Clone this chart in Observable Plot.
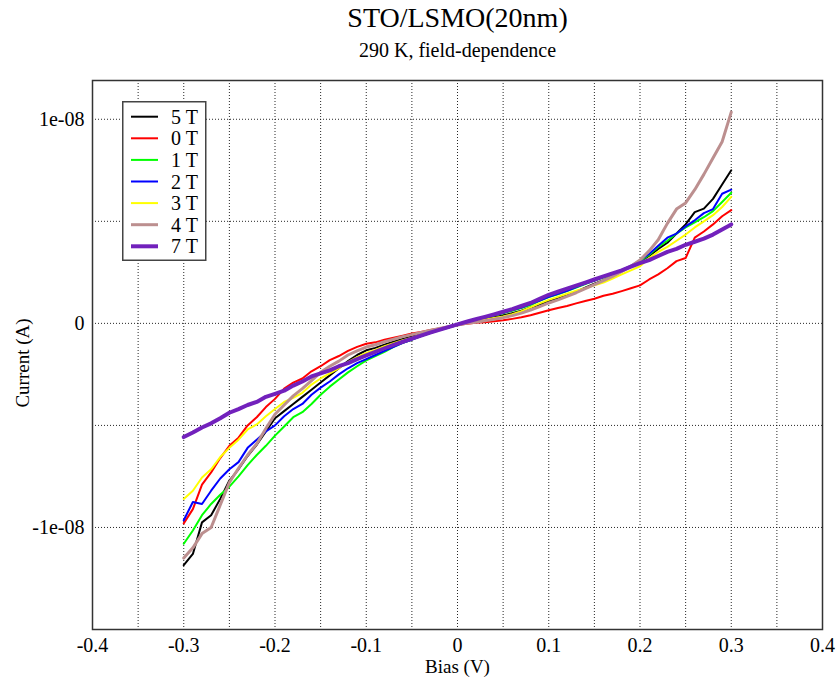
<!DOCTYPE html>
<html><head><meta charset="utf-8">
<script src="https://cdn.jsdelivr.net/npm/d3@7"></script>
<script src="https://cdn.jsdelivr.net/npm/@observablehq/plot@0.6"></script>
<style>
body{margin:0;background:#fff;}
#wrap{position:relative;width:838px;height:681px;font-family:"Liberation Serif","Times New Roman",serif;}
#legend{position:absolute;left:122px;top:101px;}
</style></head><body><div id="wrap"></div>
<script>
// Bias (V)
const bias = [-0.30,-0.29,-0.28,-0.27,-0.26,-0.25,-0.24,-0.23,-0.22,-0.21,-0.20,-0.19,-0.18,-0.17,-0.16,-0.15,-0.14,-0.13,-0.12,-0.11,-0.10,-0.09,-0.08,-0.07,-0.06,-0.05,-0.04,-0.03,-0.02,-0.01,0.00,
  0.01,0.02,0.03,0.04,0.05,0.06,0.07,0.08,0.09,0.10,0.11,0.12,0.13,0.14,0.15,0.16,0.17,0.18,0.19,0.20,0.21,0.22,0.23,0.24,0.25,0.26,0.27,0.28,0.29,0.30];

const series = ["5 T","0 T","1 T","2 T","3 T","4 T","7 T"];
const colors = ["#000000","#ff0000","#00ff00","#0000ff","#ffff00","#bc8f8f","#7221bc"];
const widths = [2,2,2,2,2,3,4];

// Current in units of 1e-9 A
const cur5T = [-11.85,-11.3,-9.75,-9.4,-8.6,-7.7,-7.15,-6.5,-5.95,-5.3,-4.65,-4.3,-3.95,-3.6,-3.25,-2.9,-2.55,-2.2,-1.85,-1.55,-1.32,-1.2,-1.05,-0.9,-0.76,-0.64,-0.5,-0.38,-0.28,-0.18,-0.08,
  0.02,0.1,0.2,0.3,0.39,0.5,0.62,0.78,0.92,1.09,1.22,1.38,1.55,1.75,1.95,2.12,2.32,2.55,2.8,3.05,3.3,3.65,3.95,4.4,4.85,5.45,5.62,6.1,6.8,7.5];
const cur0T = [-9.8,-9.1,-7.9,-7.3,-6.6,-6.0,-5.6,-5.0,-4.6,-4.1,-3.7,-3.2,-2.9,-2.7,-2.35,-2.1,-1.8,-1.6,-1.35,-1.15,-1.0,-0.93,-0.8,-0.7,-0.6,-0.5,-0.42,-0.33,-0.25,-0.16,-0.08,
  -0.02,0.03,0.06,0.1,0.15,0.22,0.3,0.4,0.52,0.64,0.75,0.85,0.98,1.1,1.21,1.35,1.45,1.58,1.72,1.86,2.15,2.4,2.7,3.05,3.2,4.2,4.5,4.85,5.25,5.55];
const cur1T = [-10.8,-10.15,-9.4,-8.85,-8.4,-8.0,-7.5,-6.95,-6.45,-6.0,-5.5,-5.05,-4.6,-4.35,-3.95,-3.5,-3.1,-2.75,-2.4,-2.1,-1.81,-1.6,-1.4,-1.15,-0.95,-0.8,-0.62,-0.48,-0.33,-0.2,-0.08,
  0.05,0.15,0.28,0.4,0.5,0.62,0.75,0.9,1.1,1.29,1.42,1.58,1.75,1.92,2.1,2.25,2.42,2.6,2.8,3.05,3.35,3.75,4.05,4.4,4.7,4.95,5.2,5.5,5.95,6.4];
const cur2T = [-9.65,-8.75,-8.85,-8.2,-7.6,-7.15,-6.8,-6.1,-5.7,-5.3,-5.0,-4.55,-4.2,-3.95,-3.5,-3.15,-2.85,-2.5,-2.2,-1.95,-1.75,-1.55,-1.35,-1.15,-0.95,-0.8,-0.62,-0.47,-0.33,-0.2,-0.08,
  0.05,0.16,0.28,0.4,0.52,0.65,0.78,0.95,1.12,1.3,1.45,1.6,1.78,1.95,2.1,2.28,2.45,2.62,2.82,3.09,3.4,3.8,4.2,4.4,4.75,5.05,5.4,5.6,6.35,6.55];
const cur3T = [-8.6,-8.2,-7.55,-7.15,-6.55,-6.1,-5.7,-5.2,-4.95,-4.55,-4.2,-3.85,-3.65,-3.4,-3.0,-2.7,-2.45,-2.2,-1.9,-1.65,-1.45,-1.3,-1.12,-0.97,-0.83,-0.7,-0.55,-0.42,-0.3,-0.18,-0.08,
  0.02,0.1,0.18,0.26,0.34,0.45,0.6,0.78,0.98,1.15,1.3,1.45,1.6,1.72,1.86,2.0,2.2,2.4,2.6,2.8,3.2,3.5,3.75,4.05,4.35,4.7,5.0,5.3,5.7,6.2];
const cur4T = [-11.5,-11.0,-10.3,-10.0,-8.9,-7.8,-7.1,-6.45,-5.9,-5.15,-4.45,-4.0,-3.55,-3.2,-2.8,-2.4,-2.1,-1.85,-1.55,-1.35,-1.16,-1.05,-0.9,-0.78,-0.65,-0.55,-0.45,-0.35,-0.25,-0.16,-0.08,
  0.0,0.06,0.13,0.2,0.28,0.38,0.5,0.65,0.82,1.0,1.15,1.32,1.5,1.7,1.9,2.1,2.3,2.55,2.8,3.1,3.55,4.1,4.9,5.6,5.9,6.55,7.3,8.1,8.9,10.35];
const cur7T = [-5.57,-5.35,-5.1,-4.9,-4.65,-4.38,-4.2,-4.0,-3.85,-3.6,-3.45,-3.3,-3.05,-2.85,-2.6,-2.45,-2.3,-2.1,-1.95,-1.75,-1.57,-1.4,-1.22,-1.05,-0.9,-0.75,-0.6,-0.45,-0.32,-0.18,-0.05,
  0.08,0.2,0.32,0.44,0.57,0.7,0.85,1.0,1.2,1.4,1.55,1.7,1.85,2.0,2.15,2.3,2.45,2.6,2.78,2.95,3.1,3.3,3.5,3.65,3.85,4.0,4.15,4.35,4.6,4.85];

const values = [cur5T, cur0T, cur1T, cur2T, cur3T, cur4T, cur7T];

const xTicks = [-0.4,-0.3,-0.2,-0.1,0,0.1,0.2,0.3,0.4];
const xGrid = [-0.35,-0.3,-0.25,-0.2,-0.15,-0.1,-0.05,0,0.05,0.1,0.15,0.2,0.25,0.3,0.35];
const yTicks = [-1e-8,0,1e-8];
const yGrid = [-1e-8,-0.5e-8,0,0.5e-8,1e-8];

const title = "STO/LSMO(20nm)";
const subtitle = "290 K, field-dependence";
const xLabel = "Bias (V)";
const yLabel = "Current (A)";

const fmtX = d => String(+d.toFixed(2));
const fmtY = d => {
  if (d === 0) return "0";
  const [m, e] = d.toExponential().split("e");
  const neg = e[0] === "-";
  const ex = e.replace(/^[+-]/, "").padStart(2, "0");
  return (+m) + "e" + (neg ? "-" : "+") + ex;
};

const rows = series.flatMap((s, k) => bias.map((b, i) => ({bias: b, current: values[k][i] * 1e-9, field: s})));

const lines = series.map((s, k) => Plot.line(rows.filter(r => r.field === s), {
  x: "bias", y: "current", stroke: colors[k], strokeWidth: widths[k], strokeLinejoin: "round"
}));

const serif = "'Liberation Serif','Times New Roman',serif";

const chart = Plot.plot({
  width: 838, height: 681,
  marginTop: 80, marginBottom: 52, marginLeft: 92, marginRight: 16,
  style: {fontFamily: serif, fontSize: "20px", background: "#fff", color: "#000"},
  x: {domain: [-0.4, 0.4]},
  y: {domain: [-1.5e-8, 1.19e-8]},
  marks: [
    Plot.gridX(xGrid, {stroke: "#000", strokeOpacity: 0.85, strokeDasharray: "1,2"}),
    Plot.gridY(yGrid, {stroke: "#000", strokeOpacity: 0.85, strokeDasharray: "1,2"}),
    ...lines,
    Plot.frame({stroke: "#333", strokeWidth: 1.5}),
    Plot.axisX(xTicks, {tickSize: 0, tickPadding: 8, tickFormat: fmtX, label: null, fontSize: 20}),
    Plot.axisY(yTicks, {tickSize: 0, tickPadding: 8, tickFormat: fmtY, label: null, fontSize: 20}),
    Plot.text([title], {frameAnchor: "top", lineAnchor: "middle", textAnchor: "middle", dy: -62, fontSize: 28}),
    Plot.text([subtitle], {frameAnchor: "top", lineAnchor: "middle", textAnchor: "middle", dy: -30, fontSize: 20}),
    Plot.text([xLabel], {frameAnchor: "bottom", lineAnchor: "middle", textAnchor: "middle", dy: 37, fontSize: 19}),
    Plot.text([yLabel], {frameAnchor: "left", lineAnchor: "middle", textAnchor: "middle", dx: -70, dy: 8, rotate: -90, fontSize: 19})
  ]
});

const wrap = document.getElementById("wrap");
wrap.appendChild(chart);

// Legend
const lg = d3.select(wrap).append("svg").attr("id", "legend")
  .attr("width", 85).attr("height", 161)
  .style("font-family", serif);
lg.append("rect").attr("x", 0.75).attr("y", 0.75).attr("width", 83).attr("height", 158.5)
  .attr("fill", "#fff").attr("stroke", "#444").attr("stroke-width", 1.5);
series.forEach((s, k) => {
  const y = 15.7 + k * 21.6;
  lg.append("line").attr("x1", 9).attr("x2", 36).attr("y1", y).attr("y2", y)
    .attr("stroke", colors[k]).attr("stroke-width", widths[k]);
  lg.append("text").attr("x", 49).attr("y", y).attr("dy", "0.35em")
    .attr("font-size", 20).attr("fill", "#000").text(s);
});
</script>
</body></html>
